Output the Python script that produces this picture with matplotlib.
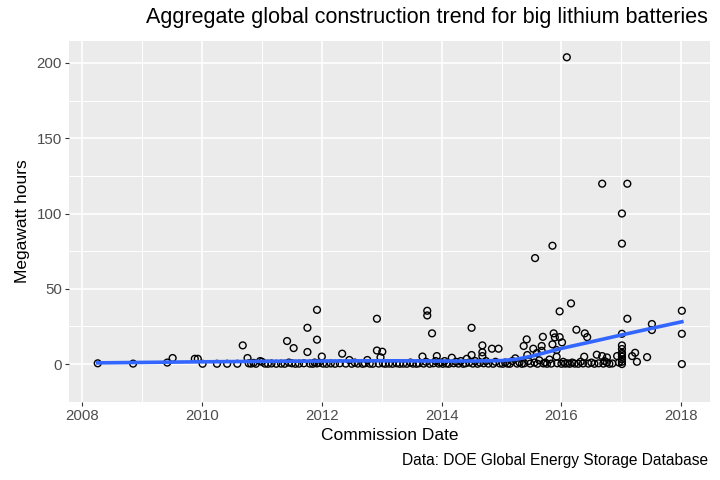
import matplotlib
matplotlib.use("Agg")
import matplotlib.pyplot as plt
from matplotlib.ticker import MultipleLocator

plt.rcParams['font.family'] = ['Liberation Sans', 'DejaVu Sans']

title = "Aggregate global construction trend for big lithium batteries"
x_label = "Commission Date"
y_label = "Megawatt hours"
caption = "Data: DOE Global Energy Storage Database"

commission_date = [
    2008.26, 2008.85, 2009.42, 2009.51, 2009.88, 2009.93, 2010.01, 2010.25, 2010.42, 2010.59,
    2010.68, 2010.76, 2010.78, 2010.82, 2010.86, 2010.90, 2010.97, 2011.00, 2011.05, 2011.10,
    2011.16, 2011.24, 2011.32, 2011.38, 2011.42, 2011.45, 2011.50, 2011.53, 2011.56, 2011.62,
    2011.70, 2011.76, 2011.76, 2011.80, 2011.85, 2011.88, 2011.92, 2011.92, 2011.92, 2011.95,
    2012.00, 2012.02, 2012.08, 2012.15, 2012.22, 2012.30, 2012.34, 2012.40, 2012.46, 2012.50,
    2012.55, 2012.60, 2012.68, 2012.72, 2012.76, 2012.80, 2012.85, 2012.92, 2012.92, 2012.98,
    2012.95, 2013.01, 2013.02, 2013.06, 2013.12, 2013.18, 2013.25, 2013.30, 2013.36, 2013.42,
    2013.48, 2013.52, 2013.58, 2013.62, 2013.68, 2013.70, 2013.74, 2013.76, 2013.76, 2013.80,
    2013.84, 2013.86, 2013.90, 2013.92, 2013.95, 2013.98, 2014.02, 2014.05, 2014.08, 2014.12,
    2014.17, 2014.20, 2014.24, 2014.28, 2014.32, 2014.36, 2014.40, 2014.42, 2014.46, 2014.50,
    2014.50, 2014.52, 2014.56, 2014.60, 2014.64, 2014.68, 2014.68, 2014.68, 2014.70, 2014.74,
    2014.78, 2014.84, 2014.86, 2014.90, 2014.95, 2014.97, 2015.02, 2015.06, 2015.10, 2015.14,
    2015.18, 2015.23, 2015.26, 2015.30, 2015.34, 2015.37, 2015.38, 2015.42, 2015.43, 2015.45,
    2015.48, 2015.53, 2015.55, 2015.56, 2015.59, 2015.60, 2015.63, 2015.67, 2015.67, 2015.69,
    2015.70, 2015.73, 2015.76, 2015.80, 2015.83, 2015.85, 2015.85, 2015.87, 2015.89, 2015.92,
    2015.92, 2015.93, 2015.97, 2015.97, 2016.00, 2016.01, 2016.03, 2016.06, 2016.09, 2016.10,
    2016.14, 2016.16, 2016.18, 2016.22, 2016.25, 2016.28, 2016.32, 2016.36, 2016.38, 2016.39,
    2016.43, 2016.45, 2016.50, 2016.55, 2016.59, 2016.62, 2016.68, 2016.68, 2016.70, 2016.72,
    2016.76, 2016.76, 2016.80, 2016.85, 2016.93, 2016.96, 2017.01, 2017.01, 2017.01, 2017.01,
    2017.01, 2017.01, 2017.01, 2017.01, 2017.01, 2017.01, 2017.01, 2017.10, 2017.10, 2017.18,
    2017.23, 2017.26, 2017.43, 2017.51, 2017.51, 2018.01, 2018.01, 2018.01,
]
megawatt_hours = [
    0.5, 0.3, 1.0, 4.0, 3.5, 3.5, 0.2, 0.2, 0.2, 0.2,
    12.4, 4.0, 0.5, 0.3, 0.8, 0.2, 2.0, 1.5, 0.3, 0.2,
    0.4, 0.2, 0.3, 0.2, 15.3, 1.0, 0.5, 10.6, 0.2, 0.3,
    0.5, 24.1, 8.0, 0.3, 0.2, 1.0, 36.0, 16.2, 0.4, 0.8,
    5.0, 0.3, 0.2, 0.4, 0.2, 0.5, 6.9, 0.3, 2.7, 0.2,
    1.0, 0.3, 0.2, 0.5, 2.7, 0.3, 0.2, 30.1, 9.0, 4.5,
    0.3, 8.2, 0.5, 0.2, 0.3, 0.2, 0.5, 0.2, 0.3, 0.2,
    1.0, 0.3, 0.2, 0.5, 5.0, 0.3, 1.5, 35.4, 32.3, 0.2,
    20.4, 0.5, 2.0, 5.3, 0.3, 1.0, 0.2, 2.0, 0.4, 0.2,
    4.2, 0.5, 1.5, 0.3, 2.0, 0.2, 0.5, 3.5, 1.0, 24.1,
    6.0, 0.3, 2.0, 0.2, 1.0, 12.4, 7.8, 5.3, 0.5, 2.0,
    0.3, 10.2, 0.2, 1.5, 10.2, 0.4, 0.2, 1.0, 0.3, 0.2,
    2.0, 3.8, 0.3, 1.0, 0.2, 12.0, 0.5, 16.4, 6.0, 2.0,
    0.3, 10.2, 1.0, 70.4, 7.3, 0.2, 2.5, 12.0, 8.8, 18.1,
    0.4, 1.0, 0.2, 3.0, 0.3, 78.6, 13.1, 20.4, 17.7, 9.3,
    4.9, 0.5, 35.0, 17.9, 0.2, 14.4, 1.5, 0.3, 203.8, 0.5,
    0.2, 40.3, 1.0, 0.3, 22.8, 0.2, 1.5, 0.4, 4.9, 20.4,
    17.9, 0.3, 1.0, 0.2, 6.2, 0.5, 119.8, 5.3, 0.3, 2.0,
    4.4, 1.1, 0.2, 0.4, 5.3, 1.0, 100.0, 80.0, 20.1, 12.4,
    10.0, 7.5, 6.6, 4.9, 3.1, 1.5, 0.0, 119.8, 30.1, 5.3,
    7.5, 1.5, 4.6, 26.6, 22.6, 35.4, 20.1, 0.0,
]

# smoothed trend (loess)
trend_date = [2008.26, 2009.0, 2010.0, 2011.0, 2012.0, 2013.0, 2014.0, 2014.5, 2015.0,
              2015.25, 2015.5, 2015.75, 2016.0, 2016.5, 2017.0, 2017.5, 2018.01]
trend_mwh = [0.8, 1.1, 1.5, 1.8, 2.0, 2.2, 2.0, 2.0, 2.3,
             3.2, 5.2, 7.8, 10.4, 14.8, 19.3, 23.7, 28.1]

x_ticks = [2008, 2010, 2012, 2014, 2016, 2018]
y_ticks = [0, 50, 100, 150, 200]

fig = plt.figure(figsize=(7.2, 4.8), dpi=100)
ax = fig.add_axes([69/720, 1 - 402/480, (710 - 69)/720, (402 - 41)/480])
ax.set_facecolor('#EBEBEB')
for s in ax.spines.values():
    s.set_visible(False)

ax.set_xlim(2007.78, 2018.48)
ax.set_ylim(-25.2, 214.6)
ax.set_xticks(x_ticks)
ax.set_yticks(y_ticks)
ax.xaxis.set_minor_locator(MultipleLocator(1))
ax.yaxis.set_minor_locator(MultipleLocator(25))
ax.grid(which='major', color='white', linewidth=1.2)
ax.grid(which='minor', color='white', linewidth=0.7)
ax.set_axisbelow(True)
ax.tick_params(which='major', length=3, width=0.8, color='#333333', labelcolor='#4D4D4D',
               labelsize=10.8, pad=2)
ax.tick_params(which='minor', length=0)

ax.scatter(commission_date, megawatt_hours, s=24, facecolors='none', edgecolors='black',
           linewidths=1.0, zorder=3)
ax.plot(trend_date, trend_mwh, color='#3366FF', linewidth=2.6, zorder=4)

ax.set_xlabel(x_label, fontsize=12.5, color='black', labelpad=4)
ax.set_ylabel(y_label, fontsize=12.5, color='black', labelpad=5)

fig.text(708/720, 1 - 18/480, title, ha='right', va='center', fontsize=15.5, color='black')
fig.text(708/720, 1 - 461/480, caption, ha='right', va='center', fontsize=11.2, color='black')

fig.savefig('out.png', dpi=100)
